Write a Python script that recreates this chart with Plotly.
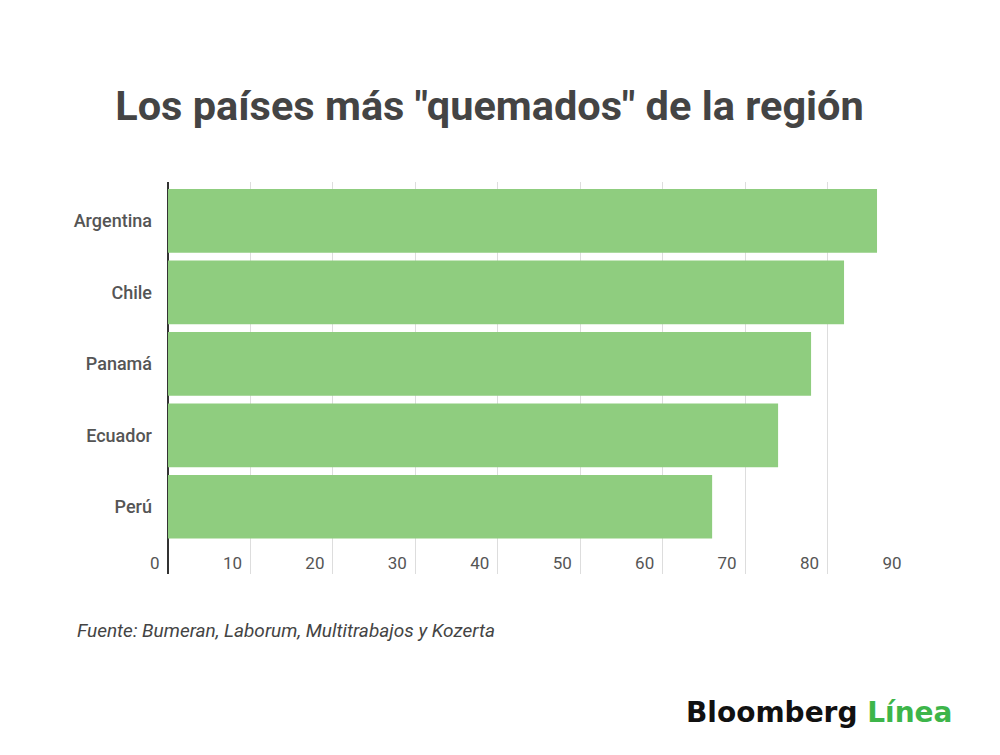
import plotly.graph_objects as go

# datos
paises = ['Argentina', 'Chile', 'Panamá', 'Ecuador', 'Perú']
valores = [86, 82, 78, 74, 66]
ticks_x = [0, 10, 20, 30, 40, 50, 60, 70, 80, 90]

titulo = 'Los países más "quemados" de la región'
fuente = 'Fuente: Bumeran, Laborum, Multitrabajos y Kozerta'

# la pagina html deja 8px de margen en el body
OFF = 8
W, H = 1000 - OFF, 755 - OFF
ML, MR, MT, MB = 167.5 - OFF, 89.7, 182 - OFF, 181
PW = W - ML - MR
PH = H - MT - MB


def px_x(p):
    # pixel de la referencia -> fraccion del area de trazado
    return (p - OFF - ML) / PW


def px_y(p):
    return (H - MB - (p - OFF)) / PH


fig = go.Figure(go.Bar(
    x=valores,
    y=paises,
    orientation='h',
    marker=dict(color='#8fcd7f', line=dict(width=0)),
    hoverinfo='x+y',
))

fig.update_layout(
    width=W, height=H,
    paper_bgcolor='white', plot_bgcolor='white',
    margin=dict(l=ML, r=MR, t=MT, b=MB, autoexpand=False),
    bargap=0.11,
    showlegend=False,
    font=dict(family='Roboto', color='#555555'),
    title=dict(
        text='<b>' + titulo + '</b>',
        font=dict(family='Roboto', size=41.5, color='#444444'),
        x=(489.5 - OFF) / W, xanchor='center',
        y=1 - (105 - OFF) / H, yanchor='middle',
    ),
)

fig.update_xaxes(
    range=[0, 90],
    tickvals=ticks_x,
    ticktext=[str(t) + '\u00a0\u00a0' for t in ticks_x],
    ticklabelposition='inside left',
    ticklabeloverflow='allow',
    ticklabelstandoff=-4,
    tickfont=dict(family='Roboto', size=17, color='#555555'),
    showgrid=True, gridcolor='#dddddd', gridwidth=1,
    zeroline=True, zerolinecolor='#333333', zerolinewidth=2,
    showline=False, ticks='',
    automargin=False,
    fixedrange=True,
)

fig.update_yaxes(
    type='category',
    categoryorder='array', categoryarray=paises,
    range=[4.94, -0.544],
    tickfont=dict(family='Roboto', size=18, color='#555555', weight=500),
    ticklabelstandoff=15,
    showgrid=False, zeroline=False, showline=False, ticks='',
    automargin=False,
    fixedrange=True,
)

fig.add_annotation(
    text='<i>' + fuente + '</i>',
    xref='paper', yref='paper',
    x=px_x(74), xanchor='left',
    y=px_y(630), yanchor='middle',
    showarrow=False,
    font=dict(family='Roboto', size=19, color='#444444'),
)

fig.add_annotation(
    text='<b>Bloomberg <span style="color:#3db54a">Línea</span></b>',
    xref='paper', yref='paper',
    x=px_x(955), xanchor='right',
    y=px_y(712), yanchor='middle',
    showarrow=False,
    font=dict(family='DejaVu Sans', size=28, color='#111111'),
)

fig.write_html('out.html')
